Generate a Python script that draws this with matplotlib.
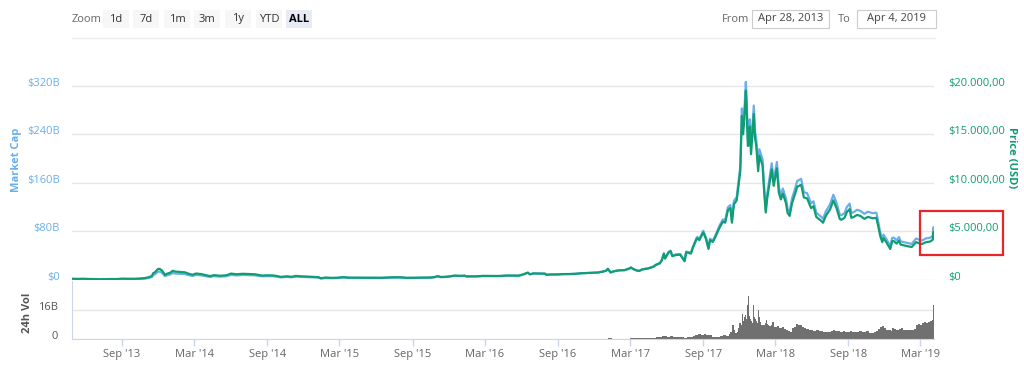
import numpy as np
import pandas as pd
import matplotlib
matplotlib.use("Agg")
import matplotlib.pyplot as plt
import matplotlib.dates as mdates
from matplotlib.transforms import ScaledTranslation
from matplotlib.patches import Rectangle

plt.rcParams['font.family'] = ['Open Sans', 'DejaVu Sans']

# price (USD) and market cap (billions USD)
price_dates = [
    '2013-04-28', '2013-05-12', '2013-05-26', '2013-06-09', '2013-06-23', '2013-07-07', '2013-07-21',
    '2013-08-04', '2013-08-18', '2013-09-01', '2013-09-15', '2013-10-01', '2013-10-15', '2013-10-29',
    '2013-11-08', '2013-11-15', '2013-11-18', '2013-11-22', '2013-11-30', '2013-12-04', '2013-12-10',
    '2013-12-18', '2013-12-23', '2013-12-31',
    '2014-01-06', '2014-01-12', '2014-01-25', '2014-02-06', '2014-02-15', '2014-02-25', '2014-03-06',
    '2014-03-20', '2014-04-01', '2014-04-10', '2014-04-20', '2014-05-05', '2014-05-20', '2014-06-02',
    '2014-06-15', '2014-07-01', '2014-07-15', '2014-08-01', '2014-08-18', '2014-09-01', '2014-09-15',
    '2014-09-25', '2014-10-05', '2014-10-20', '2014-11-01', '2014-11-12', '2014-11-25', '2014-12-10',
    '2014-12-25',
    '2015-01-07', '2015-01-14', '2015-01-25', '2015-02-10', '2015-02-25', '2015-03-11', '2015-03-25',
    '2015-04-10', '2015-04-25', '2015-05-10', '2015-05-25', '2015-06-10', '2015-06-25', '2015-07-10',
    '2015-07-20', '2015-08-01', '2015-08-18', '2015-09-01', '2015-09-15', '2015-10-01', '2015-10-15',
    '2015-10-25', '2015-11-04', '2015-11-11', '2015-11-20', '2015-12-01', '2015-12-15', '2015-12-31',
    '2016-01-10', '2016-01-15', '2016-01-28', '2016-02-10', '2016-02-25', '2016-03-10', '2016-03-25',
    '2016-04-10', '2016-04-25', '2016-05-10', '2016-05-25', '2016-06-05', '2016-06-17', '2016-06-22',
    '2016-07-01', '2016-07-15', '2016-07-30', '2016-08-02', '2016-08-15', '2016-09-01', '2016-09-15',
    '2016-10-01', '2016-10-15', '2016-10-28', '2016-11-10', '2016-11-25', '2016-12-10', '2016-12-22',
    '2016-12-31',
    '2017-01-04', '2017-01-11', '2017-01-20', '2017-02-01', '2017-02-15', '2017-02-28', '2017-03-03',
    '2017-03-10', '2017-03-18', '2017-03-24', '2017-04-01', '2017-04-15', '2017-04-28', '2017-05-05',
    '2017-05-15', '2017-05-20', '2017-05-25', '2017-05-28', '2017-06-06', '2017-06-11', '2017-06-15',
    '2017-06-25', '2017-07-05', '2017-07-16', '2017-07-20', '2017-08-01', '2017-08-05', '2017-08-15',
    '2017-08-17', '2017-08-22', '2017-09-01', '2017-09-08', '2017-09-14', '2017-09-18', '2017-09-25',
    '2017-10-01', '2017-10-12', '2017-10-20', '2017-10-26', '2017-11-02', '2017-11-08', '2017-11-12',
    '2017-11-17', '2017-11-24', '2017-11-29', '2017-12-03', '2017-12-07', '2017-12-10', '2017-12-13',
    '2017-12-17', '2017-12-19', '2017-12-22', '2017-12-25', '2017-12-27', '2017-12-30',
    '2018-01-06', '2018-01-09', '2018-01-12', '2018-01-17', '2018-01-20', '2018-01-28', '2018-02-01',
    '2018-02-05', '2018-02-09', '2018-02-15', '2018-02-20', '2018-02-25', '2018-03-05', '2018-03-10',
    '2018-03-15', '2018-03-20', '2018-03-28', '2018-04-01', '2018-04-06', '2018-04-12', '2018-04-20',
    '2018-04-25', '2018-05-05', '2018-05-12', '2018-05-20', '2018-05-30', '2018-06-05', '2018-06-12',
    '2018-06-24', '2018-06-29', '2018-07-06', '2018-07-17', '2018-07-25', '2018-08-02', '2018-08-10',
    '2018-08-14', '2018-08-22', '2018-08-28', '2018-09-04', '2018-09-08', '2018-09-15', '2018-09-22',
    '2018-10-01', '2018-10-11', '2018-10-20', '2018-11-01', '2018-11-10', '2018-11-14', '2018-11-20',
    '2018-11-25', '2018-11-28', '2018-12-05', '2018-12-15', '2018-12-20', '2018-12-24', '2018-12-31',
    '2019-01-06', '2019-01-10', '2019-01-20', '2019-01-31', '2019-02-07', '2019-02-18', '2019-02-24',
    '2019-03-05', '2019-03-15', '2019-03-25', '2019-04-01', '2019-04-02', '2019-04-04',
]
price_usd = [
    135, 115, 130, 105, 100, 75, 90,
    100, 100, 140, 127, 125, 150, 200,
    300, 420, 700, 780, 1130, 1150, 990,
    520, 650, 750,
    950, 870, 830, 790, 650, 540, 670,
    600, 480, 400, 500, 440, 480, 660,
    590, 640, 620, 590, 460, 480, 470,
    410, 320, 380, 330, 420, 380, 350,
    320,
    295, 180, 250, 220, 237, 296, 245,
    240, 225, 240, 235, 230, 245, 275,
    280, 282, 225, 230, 230, 240, 255,
    290, 400, 310, 325, 360, 455, 430,
    450, 375, 380, 380, 425, 415, 415,
    420, 460, 455, 450, 575, 760, 590,
    680, 665, 655, 545, 570, 575, 610,
    615, 640, 690, 715, 740, 770, 860,
    960,
    1150, 780, 900, 990, 1010, 1190, 1280,
    1100, 970, 935, 1090, 1180, 1350, 1550,
    1720, 2050, 2700, 2200, 2850, 2950, 2450,
    2580, 2600, 1930, 2850, 2720, 3230, 4200,
    4300, 4100, 4900, 4200, 3200, 4100, 3920,
    4400, 5400, 6000, 5900, 7200, 7400, 5900,
    7800, 8200, 9900, 11200, 16900, 15000, 16500,
    19500, 17800, 13800, 13900, 15800, 12950,
    17100, 14600, 13900, 11200, 12800, 11800, 9100,
    6950, 8500, 10100, 11400, 9700, 11500, 9000,
    8300, 8900, 7900, 6900, 6600, 7900, 8900,
    9600, 9800, 8500, 8400, 7400, 7600, 6500,
    6100, 5900, 6600, 7300, 8200, 7400, 6300,
    6200, 6400, 7000, 7300, 6400, 6500, 6700,
    6600, 6300, 6500, 6350, 6400, 5700, 4500,
    3900, 4300, 3900, 3200, 4000, 4000, 3750,
    4050, 3650, 3550, 3450, 3400, 3900, 3800,
    3700, 3900, 3950, 4150, 4900, 4950,
]
market_cap_b = [
    1.50, 1.28, 1.46, 1.18, 1.13, 0.85, 1.03,
    1.15, 1.15, 1.62, 1.47, 1.46, 1.76, 2.36,
    3.56, 5.0, 8.33, 9.32, 13.56, 13.8, 11.93,
    6.29, 7.87, 9.11,
    11.59, 10.61, 10.17, 9.72, 8.03, 6.70, 8.34,
    7.50, 6.02, 5.04, 6.30, 5.57, 6.10, 8.42,
    7.55, 8.26, 8.03, 7.70, 6.05, 6.34, 6.23,
    5.45, 4.27, 5.09, 4.44, 5.67, 5.15, 4.76,
    4.37,
    4.04, 2.47, 3.45, 3.05, 3.29, 4.14, 3.44,
    3.38, 3.18, 3.41, 3.35, 3.29, 3.52, 3.96,
    4.05, 4.09, 3.27, 3.36, 3.37, 3.53, 3.76,
    4.29, 5.93, 4.61, 4.84, 5.38, 6.83, 6.47,
    6.80, 5.67, 5.76, 5.78, 6.49, 6.36, 6.39,
    6.49, 7.13, 7.08, 7.02, 9.00, 11.93, 9.27,
    10.71, 10.49, 10.35, 8.61, 9.02, 9.13, 9.70,
    9.79, 10.21, 11.02, 11.44, 11.85, 12.36, 13.82,
    15.44,
    18.52, 12.57, 14.52, 15.99, 16.34, 19.28, 20.74,
    17.84, 15.75, 15.19, 17.73, 19.23, 22.03, 25.31,
    28.12, 33.54, 44.20, 36.01, 46.71, 48.38, 40.20,
    42.39, 42.77, 31.79, 46.97, 44.88, 53.33, 69.43,
    71.08, 67.81, 81.14, 69.59, 53.06, 68.02, 65.07,
    73.08, 89.80, 99.84, 98.24, 120.0, 123.4, 98.41,
    130.2, 136.9, 165.4, 187.3, 282.7, 251.0, 276.2,
    326.4, 298.2, 231.2, 233.0, 264.8, 217.2,
    287.3, 245.4, 233.7, 188.4, 215.4, 198.7, 153.3,
    117.2, 143.3, 170.4, 192.4, 163.8, 194.4, 152.2,
    140.4, 150.7, 133.8, 117.0, 111.9, 134.1, 151.1,
    163.1, 166.6, 144.6, 143.1, 126.2, 129.7, 111.0,
    104.3, 101.0, 113.0, 125.1, 140.6, 127.1, 108.2,
    106.6, 110.1, 120.5, 125.8, 110.3, 112.1, 115.6,
    114.0, 109.0, 112.5, 110.0, 111.0, 98.9, 78.1,
    67.7, 74.7, 67.8, 55.7, 69.6, 69.7, 65.4,
    70.7, 63.7, 62.1, 60.4, 59.5, 68.4, 66.7,
    65.0, 68.6, 69.5, 73.1, 86.3, 87.2,
]

# 24h volume (billions USD)
vol_dates = [
    '2013-12-27', '2014-04-01', '2014-07-01', '2014-10-01', '2015-01-01', '2015-04-01', '2015-07-01',
    '2015-10-01', '2016-01-01', '2016-04-01', '2016-07-01', '2016-10-01',
    '2017-01-04', '2017-01-15', '2017-02-01', '2017-02-15', '2017-03-01', '2017-03-18', '2017-03-21',
    '2017-03-31', '2017-04-03', '2017-04-10', '2017-04-25', '2017-05-05', '2017-05-12', '2017-05-20',
    '2017-05-27', '2017-06-03', '2017-06-10', '2017-06-17', '2017-06-24', '2017-07-01', '2017-07-08',
    '2017-07-15', '2017-07-22', '2017-07-29', '2017-08-05', '2017-08-12', '2017-08-19', '2017-08-26',
    '2017-09-02', '2017-09-09', '2017-09-16', '2017-09-23', '2017-09-30', '2017-10-07', '2017-10-14',
    '2017-10-21', '2017-10-28', '2017-11-04', '2017-11-08', '2017-11-12', '2017-11-16', '2017-11-20',
    '2017-11-24', '2017-11-28', '2017-12-01', '2017-12-04', '2017-12-07', '2017-12-09', '2017-12-11',
    '2017-12-13', '2017-12-15', '2017-12-17', '2017-12-19', '2017-12-21', '2017-12-22', '2017-12-24',
    '2017-12-26', '2017-12-28', '2017-12-30',
    '2018-01-01', '2018-01-03', '2018-01-05', '2018-01-07', '2018-01-09', '2018-01-12', '2018-01-15',
    '2018-01-17', '2018-01-19', '2018-01-22', '2018-01-25', '2018-01-29', '2018-02-02', '2018-02-05',
    '2018-02-07', '2018-02-10', '2018-02-14', '2018-02-18', '2018-02-21', '2018-02-25', '2018-03-01',
    '2018-03-06', '2018-03-10', '2018-03-14', '2018-03-18', '2018-03-22', '2018-03-27', '2018-04-01',
    '2018-04-06', '2018-04-12', '2018-04-17', '2018-04-22', '2018-04-26', '2018-05-01', '2018-05-06',
    '2018-05-12', '2018-05-18', '2018-05-24', '2018-05-30', '2018-06-05', '2018-06-12', '2018-06-18',
    '2018-06-24', '2018-06-30', '2018-07-06', '2018-07-12', '2018-07-18', '2018-07-24', '2018-07-30',
    '2018-08-05', '2018-08-11', '2018-08-17', '2018-08-23', '2018-08-29', '2018-09-04', '2018-09-10',
    '2018-09-16', '2018-09-22', '2018-09-28', '2018-10-04', '2018-10-10', '2018-10-16', '2018-10-22',
    '2018-10-28', '2018-11-03', '2018-11-09', '2018-11-15', '2018-11-20', '2018-11-25', '2018-11-29',
    '2018-12-04', '2018-12-10', '2018-12-16', '2018-12-20', '2018-12-25', '2018-12-30',
    '2019-01-05', '2019-01-10', '2019-01-15', '2019-01-20', '2019-01-26', '2019-02-01', '2019-02-07',
    '2019-02-13', '2019-02-19', '2019-02-24', '2019-03-01', '2019-03-06', '2019-03-11', '2019-03-16',
    '2019-03-21', '2019-03-26', '2019-03-31', '2019-04-02', '2019-04-03',
]
volume_b = [
    0.03, 0.04, 0.02, 0.03, 0.04, 0.02, 0.03,
    0.05, 0.05, 0.04, 0.1, 0.07,
    0.3, 0.15, 0.15, 0.15, 0.3, 0.7, 0.3,
    0.6, 0.3, 0.4, 0.5, 0.9, 1.2, 1.4,
    1.6, 1.3, 1.5, 1.3, 1.2, 1.0, 0.9,
    0.8, 1.2, 1.0, 1.6, 2.2, 2.6, 2.2,
    2.6, 2.0, 2.3, 1.2, 1.0, 1.2, 1.8,
    2.2, 1.8, 3.0, 4.0, 8.0, 5.0, 3.5,
    4.0, 6.0, 9.0, 7.5, 14.0, 17.5, 10.0,
    12.0, 13.0, 11.0, 14.0, 19.0, 23.5, 13.0,
    12.5, 11.0, 10.0,
    9.0, 12.0, 18.5, 12.0, 11.0, 10.0, 9.0,
    16.0, 12.0, 9.5, 8.0, 8.0, 9.0, 10.5,
    8.5, 7.5, 7.0, 8.0, 9.5, 6.5, 6.5,
    7.0, 6.0, 5.8, 6.5, 5.5, 5.0, 4.5,
    4.0, 6.0, 6.5, 8.5, 7.5, 7.5, 6.5,
    6.0, 5.5, 5.0, 4.8, 4.5, 4.8, 4.2,
    4.5, 4.0, 4.0, 3.8, 4.6, 5.2, 4.5,
    4.2, 4.0, 4.2, 3.8, 4.0, 4.5, 4.0,
    3.8, 4.0, 4.2, 4.0, 3.6, 4.2, 3.5,
    3.4, 3.8, 4.5, 5.5, 6.5, 7.0, 5.8,
    5.0, 4.8, 4.6, 6.2, 5.5, 5.2,
    5.4, 6.0, 5.0, 5.2, 5.0, 5.0, 5.2,
    5.6, 7.5, 8.5, 8.0, 9.0, 9.5, 9.0,
    9.5, 10.0, 10.5, 18.5, 21.0,
]

x_tick_dates = ['2013-09-01', '2014-03-01', '2014-09-01', '2015-03-01', '2015-09-01', '2016-03-01',
                '2016-09-01', '2017-03-01', '2017-09-01', '2018-03-01', '2018-09-01', '2019-03-01']
x_tick_labels = ["Sep '13", "Mar '14", "Sep '14", "Mar '15", "Sep '15", "Mar '16",
                 "Sep '16", "Mar '17", "Sep '17", "Mar '18", "Sep '18", "Mar '19"]
cap_ticks = [0, 80, 160, 240, 320]
cap_labels = ['$0', '$80B', '$160B', '$240B', '$320B']
price_ticks = [0, 5000, 10000, 15000, 20000]
price_labels = ['$0', '$5.000,00', '$10.000,00', '$15.000,00', '$20.000,00']
vol_ticks = [0, 16]
vol_labels = ['0', '16B']

BLUE = '#6aafea'
GREEN = '#0f9d74'
GRID = '#e6e6e6'
AXLINE = '#ccd6eb'

W, H = 1024, 378
fig = plt.figure(figsize=(W / 100, H / 100), dpi=100)


def box(l, t, r, b):
    return [l / W, 1 - b / H, (r - l) / W, (b - t) / H]


ax = fig.add_axes(box(72, 70, 934, 280))
axv = fig.add_axes(box(72, 281, 934, 339), sharex=ax)
axp = ax.twinx()

pdates = pd.to_datetime(price_dates)
ax.plot(pdates, market_cap_b, color=BLUE, lw=1.6, solid_joinstyle='round')
axp.plot(pdates, price_usd, color=GREEN, lw=1.6, solid_joinstyle='round')

vd = mdates.date2num(pd.to_datetime(vol_dates))
widths = np.append(np.diff(vd), 1.0)
axv.bar(vd, volume_b, width=widths, align='edge', color='#707070', linewidth=0)

ax.set_xlim(pd.Timestamp('2013-04-28'), pd.Timestamp('2019-04-04'))
ax.set_ylim(0, 346)
axp.set_ylim(0, 346 / 320 * 20000)
axv.set_ylim(0, 32)

up = ScaledTranslation(0, 4 / 100, fig.dpi_scale_trans)

ax.set_yticks(cap_ticks)
ax.set_yticklabels(cap_labels)
ax.tick_params(axis='y', length=0, pad=8.6, labelsize=8, labelcolor=BLUE)
ax.tick_params(axis='x', bottom=False, labelbottom=False)
ax.grid(axis='y', color=GRID, lw=1)
ax.set_axisbelow(True)

axp.set_yticks(price_ticks)
axp.set_yticklabels(price_labels)
axp.tick_params(axis='y', length=0, pad=10, labelsize=8, labelcolor=GREEN)

axv.set_yticks(vol_ticks)
axv.set_yticklabels(vol_labels)
axv.tick_params(axis='y', length=0, pad=10, labelsize=8, labelcolor='#555555')
axv.grid(axis='y', color=GRID, lw=1)
axv.set_axisbelow(True)
axv.set_xticks(pd.to_datetime(x_tick_dates))
axv.set_xticklabels(x_tick_labels)
axv.tick_params(axis='x', length=5, width=1, color=AXLINE, pad=2, labelsize=8, labelcolor='#666666')

for a in (ax, axp, axv):
    for lab in a.get_yticklabels():
        lab.set_transform(lab.get_transform() + up)

for a in (ax, axp):
    for s in a.spines.values():
        s.set_visible(False)
axv.spines['top'].set_visible(False)
axv.spines['right'].set_visible(False)
axv.spines['left'].set_color(AXLINE)
axv.spines['bottom'].set_color(AXLINE)

# overlay in pixel coordinates for the header, axis titles and the red box
ov = fig.add_axes([0, 0, 1, 1], zorder=10)
ov.set_xlim(0, W)
ov.set_ylim(H, 0)
ov.axis('off')

ov.text(17, 160, 'Market Cap', rotation=90, color=BLUE, fontsize=8, fontweight='bold',
        ha='center', va='center')
ov.text(1012, 158, 'Price (USD)', rotation=270, color=GREEN, fontsize=8, fontweight='bold',
        ha='center', va='center')
ov.text(27, 313, '24h Vol', rotation=90, color='#555555', fontsize=8, fontweight='bold',
        ha='center', va='center')

ov.text(72, 19, 'Zoom', color='#666666', fontsize=8, ha='left', va='center')
buttons = ['1d', '7d', '1m', '3m', '1y', 'YTD', 'ALL']
bx = [103, 133, 164, 194, 225, 256, 286]
for name, x0 in zip(buttons, bx):
    sel = name == 'ALL'
    ov.add_patch(Rectangle((x0, 10), 26, 18, facecolor='#e6ebf5' if sel else '#f7f7f7',
                           edgecolor='none'))
    ov.text(x0 + 13, 19, name, color='#000000' if sel else '#333333', fontsize=8,
            fontweight='bold' if sel else 'normal', ha='center', va='center')

ov.text(722, 19, 'From', color='#666666', fontsize=8, ha='left', va='center')
ov.text(838, 19, 'To', color='#666666', fontsize=8, ha='left', va='center')
ov.add_patch(Rectangle((752, 10), 77, 18, facecolor='white', edgecolor='#cccccc', lw=0.8))
ov.text(790.5, 19, 'Apr 28, 2013', color='#444444', fontsize=8, ha='center', va='center')
ov.add_patch(Rectangle((857, 10), 79, 18, facecolor='white', edgecolor='#cccccc', lw=0.8))
ov.text(896.5, 19, 'Apr 4, 2019', color='#444444', fontsize=8, ha='center', va='center')
ov.plot([72, 935], [38, 38], color='#ececec', lw=1)

ov.add_patch(Rectangle((920, 211), 83, 44, facecolor='none', edgecolor='#e8252b', lw=1.6))

fig.savefig('out.png', dpi=100)
